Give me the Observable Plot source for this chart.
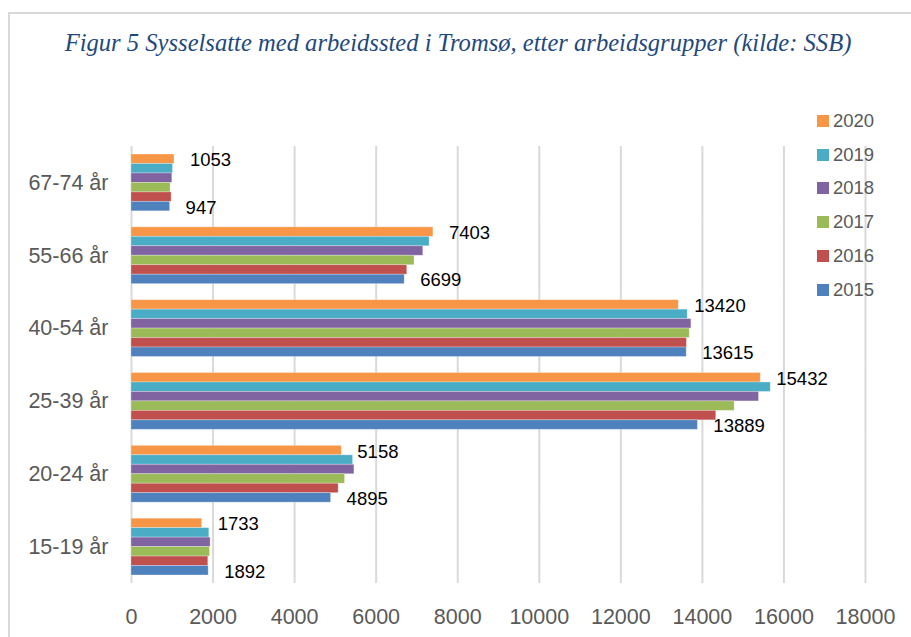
<!DOCTYPE html>
<html>
<head>
<meta charset="utf-8">
<script src="https://cdn.jsdelivr.net/npm/d3@7"></script>
<script src="https://cdn.jsdelivr.net/npm/@observablehq/plot@0.6"></script>
<style>
  html, body { margin: 0; padding: 0; background: #fff; overflow: hidden; }
  #wrap { position: relative; width: 911px; height: 637px; overflow: hidden; font-family: "Liberation Sans", Arial, sans-serif; }
  #frame { position: absolute; left: 8px; top: 12px; width: 1000px; height: 1000px; border: 2px solid #d9d9d9; box-sizing: border-box; }
  #title { position: absolute; left: 0; top: 29px; width: 916px; text-align: center; font-family: "Liberation Serif", serif; font-style: italic; font-size: 24.6px; line-height: 28px; color: #1F497D; white-space: nowrap; }
  #chart { position: absolute; left: 0; top: 0; }
  #legend { position: absolute; left: 817px; top: 111px; }
  .row { position: absolute; left: 0; height: 20px; white-space: nowrap; font-size: 18.5px; color: #595959; line-height: 20px; }
  .sw { position: absolute; left: 0; top: 4px; width: 12px; height: 12px; }
  .lab { position: absolute; left: 16px; top: 0; }
</style>
</head>
<body>
<div id="wrap">
  <div id="frame"></div>
  <div id="chart"></div>
  <div id="title">Figur 5 Sysselsatte med arbeidssted i Tromsø, etter arbeidsgrupper (kilde: SSB)</div>
  <div id="legend"></div>
</div>
<script>
// Categories (top to bottom)
const ages = ["67-74 år", "55-66 år", "40-54 år", "25-39 år", "20-24 år", "15-19 år"];
// Series (top bar to bottom bar within each group; legend order)
const years = ["2020", "2019", "2018", "2017", "2016", "2015"];
const colors = ["#F79646", "#4BACC6", "#8064A2", "#9BBB59", "#C0504D", "#4F81BD"];
// Values per series, in ages order
const v2020 = [1053, 7403, 13420, 15432, 5158, 1733];
const v2019 = [1017, 7310, 13640, 15676, 5434, 1908];
const v2018 = [1000, 7155, 13730, 15389, 5466, 1940];
const v2017 = [959, 6941, 13690, 14791, 5237, 1924];
const v2016 = [983, 6762, 13620, 14340, 5080, 1883];
const v2015 = [947, 6699, 13615, 13889, 4895, 1892];
// Series that carry value labels
const labelYears = ["2020", "2015"];
// x-axis ticks
const xTicks = [0, 2000, 4000, 6000, 8000, 10000, 12000, 14000, 16000, 18000];

const seriesValues = [v2020, v2019, v2018, v2017, v2016, v2015];
const data = [];
years.forEach((yr, i) => {
  ages.forEach((age, j) => data.push({age, year: yr, value: seriesValues[i][j]}));
});
const labels = data.filter(d => labelYears.includes(d.year));

const plot = Plot.plot({
  width: 911,
  height: 637,
  marginLeft: 131,
  marginRight: 46,
  marginTop: 146,
  marginBottom: 54,
  style: {fontFamily: "Liberation Sans, Arial, sans-serif", fontSize: "21.5px", color: "#595959", background: "transparent", overflow: "visible"},
  x: {domain: [0, 18000], ticks: xTicks, tickFormat: d => String(d), tickSize: 0, tickPadding: 25, label: null, line: false},
  y: {domain: years, paddingInner: 0, paddingOuter: 0.847, round: false, axis: null},
  fy: {domain: ages, padding: 0, round: false, axis: "left", tickSize: 0, tickPadding: 23, label: null},
  color: {domain: years, range: colors, type: "ordinal"},
  marks: [
    Plot.ruleX(xTicks, {x: d => d, stroke: "#d9d9d9", strokeWidth: 2}),
    Plot.barX(data, {x: "value", y: "year", fy: "age", fill: "year", stroke: "#ffffff", strokeOpacity: 0.35, strokeWidth: 0.8}),
    Plot.text(labels, {x: "value", y: "year", fy: "age", text: d => String(d.value), dx: 15.5, dy: 1, textAnchor: "start", fill: "#000", fontSize: 18.5})
  ]
});
document.getElementById("chart").appendChild(plot);

const color = plot.scale("color");
const legend = d3.select("#legend");
years.forEach((yr, i) => {
  const row = legend.append("div").attr("class", "row").style("top", (i * 33.7) + "px");
  row.append("div").attr("class", "sw").style("background", colors[color.domain.indexOf(yr)]);
  row.append("div").attr("class", "lab").text(yr);
});
</script>
</body>
</html>
